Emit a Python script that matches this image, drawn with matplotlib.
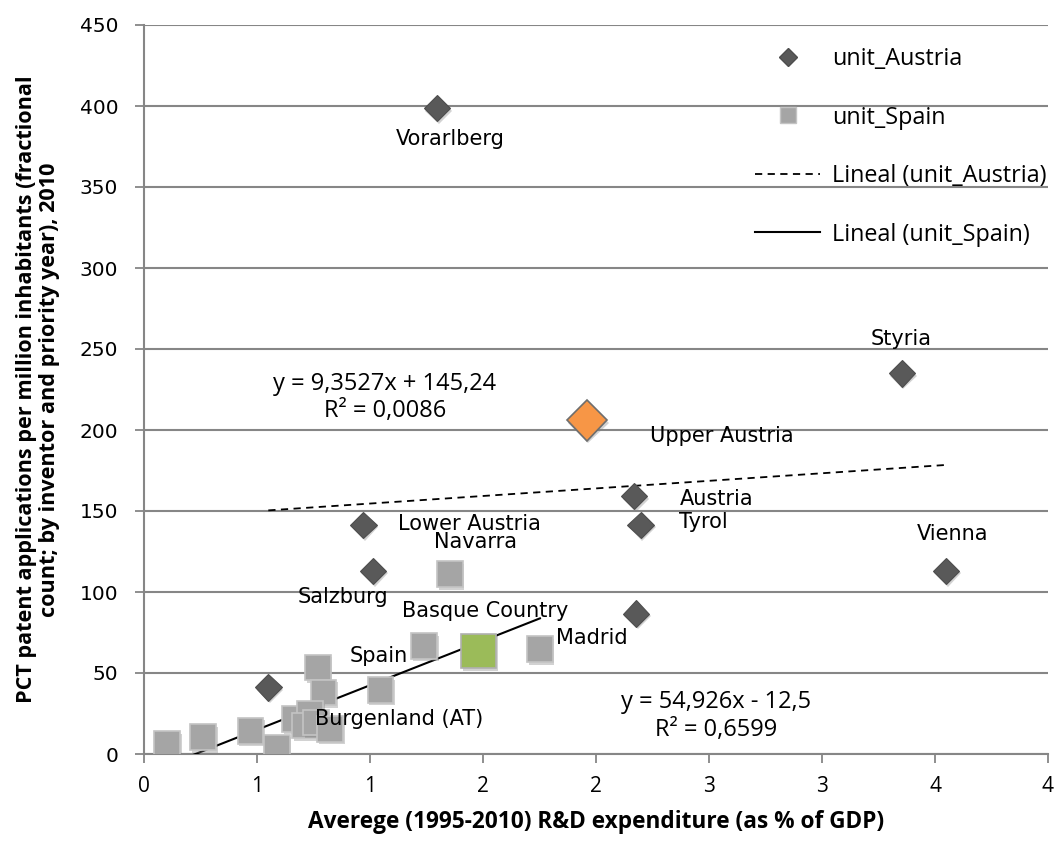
import numpy as np
import matplotlib
matplotlib.use('Agg')
import matplotlib.pyplot as plt
import matplotlib.patheffects as pe

# unit_Austria (diamonds)
at_names = ['Vorarlberg', 'Upper Austria', 'Styria', 'Austria', 'Tyrol', 'Lower Austria',
            'Salzburg', '', 'Vienna', 'Burgenland (AT)']
at_x = [1.296, 1.959, 3.353, 2.169, 2.198, 0.971, 1.013, 2.177, 3.548, 0.550]
at_y = [398.7, 205.9, 234.9, 159.2, 141.4, 141.4, 113.0, 86.7, 113.0, 41.1]

# unit_Spain (squares)
es_names = ['Navarra', 'Basque Country', 'Spain', 'Madrid', '', '', '', '', '', '', '', '', '', '', '', '']
es_x = [1.353, 1.480, 1.240, 1.752, 1.047, 0.769, 0.794, 0.668, 0.735, 0.713, 0.760, 0.823,
        0.103, 0.262, 0.471, 0.587]
es_y = [111.0, 63.5, 66.6, 64.7, 39.5, 53.4, 38.0, 21.6, 24.7, 17.5, 19.5, 15.4,
        6.2, 10.3, 14.4, 4.1]

# trend lines as reported on the chart (slope, intercept)
at_trend = (9.3527, 145.24)
es_trend = (54.926, -12.5)
at_eq = 'y = 9,3527x + 145,24\nR² = 0,0086'
es_eq = 'y = 54,926x - 12,5\nR² = 0,6599'

x_ticks = [0, 0.5, 1, 1.5, 2, 2.5, 3, 3.5, 4]
x_ticklabels = ['0', '1', '1', '2', '2', '3', '3', '4', '4']
y_ticks = [0, 50, 100, 150, 200, 250, 300, 350, 400, 450]

# label offsets in pixels from the point (dx right, dy up)
label_off = {
    'Vorarlberg': (13, -31), 'Upper Austria': (135, -16), 'Styria': (-1, 34),
    'Austria': (82, -3), 'Tyrol': (63, 3), 'Lower Austria': (106, 1),
    'Salzburg': (-30, -26), 'Vienna': (7, 37), 'Burgenland (AT)': (131, -32),
    'Navarra': (26, 32), 'Basque Country': (7, 40), 'Spain': (-45, -10),
    'Madrid': (52, 11),
}

fig = plt.figure(figsize=(10.57, 8.41), dpi=100)
ax = fig.add_axes([144 / 1057, 87 / 841, 904 / 1057, 729 / 841])

grid_c = '#868686'
shadow = [pe.SimplePatchShadow(offset=(1.2, -1.8), shadow_rgbFace='#7f7f7f', alpha=0.35), pe.Normal()]

# trend lines over each series' x range
xa = np.array([min(at_x), max(at_x)])
ax.plot(xa, at_trend[0] * xa + at_trend[1], ls=(0, (4, 3)), color='black', lw=1.3, zorder=3)
xs = np.array([min(es_x), max(es_x)])
ax.plot(xs, es_trend[0] * xs + es_trend[1], ls='-', color='black', lw=1.5, zorder=3)

# squares
for n, x, y in zip(es_names, es_x, es_y):
    if n == 'Basque Country':
        ax.plot(x, y, 's', ms=25, mfc='#9BBB59', mec='#b0b0b0', mew=1.2, zorder=4, path_effects=shadow)
    else:
        ax.plot(x, y, 's', ms=18.5, mfc='#a5a5a5', mec='#c4c4c4', mew=1.2, zorder=4, path_effects=shadow)

# diamonds
for n, x, y in zip(at_names, at_x, at_y):
    if n == 'Upper Austria':
        ax.plot(x, y, 'D', ms=20.5, mfc='#F79646', mec='#6e6e6e', mew=1.2, zorder=5, path_effects=shadow)
    else:
        ax.plot(x, y, 'D', ms=13.5, mfc='#595959', mec='#4d4d4d', mew=0.8, zorder=5, path_effects=shadow)

# legend
h1, = ax.plot([], [], 'D', ms=9.2, mfc='#595959', mec='#4d4d4d', ls='none')
h2, = ax.plot([], [], 's', ms=12, mfc='#a5a5a5', mec='#c4c4c4', ls='none')
h3, = ax.plot([], [], ls=(0, (4, 3)), color='black', lw=1.3)
h4, = ax.plot([], [], ls='-', color='black', lw=1.5)
ax.legend([h1, h2, h3, h4], ['unit_Austria', 'unit_Spain', 'Lineal (unit_Austria)', 'Lineal (unit_Spain)'],
          loc='upper left', bbox_to_anchor=(755 / 1057, 1 - 47 / 841), bbox_transform=fig.transFigure,
          frameon=False, borderpad=0, borderaxespad=0, labelspacing=1.48, handlelength=2.8,
          handletextpad=0.5, prop={'family': 'Open Sans', 'size': 16.8})

# data labels
for n, x, y in list(zip(at_names, at_x, at_y)) + list(zip(es_names, es_x, es_y)):
    if not n:
        continue
    dx, dy = label_off[n]
    ax.annotate(n, (x, y), xytext=(dx * 0.72, dy * 0.72), textcoords='offset points',
                ha='center', va='center', fontsize=15, family='DejaVu Sans', zorder=6)

# trend equations
ax.text(1.065, 220, at_eq, ha='center', va='center', fontsize=17, family='Open Sans', linespacing=1.15)
ax.text(2.53, 23.5, es_eq, ha='center', va='center', fontsize=17, family='Open Sans', linespacing=1.25)

ax.set_xlim(0, 4)
ax.set_ylim(0, 450)
ax.set_xticks(x_ticks)
ax.set_xticklabels(x_ticklabels)
ax.set_yticks(y_ticks)
ax.yaxis.grid(True, color=grid_c, lw=1.5)
ax.set_axisbelow(True)
for s in ['top', 'right']:
    ax.spines[s].set_visible(False)
for s in ['left', 'bottom']:
    ax.spines[s].set_color(grid_c)
    ax.spines[s].set_linewidth(1.5)
ax.tick_params(axis='both', colors=grid_c, length=6.5, width=1.3, labelcolor='black')
ax.tick_params(axis='y', pad=12, labelsize=14.5)
ax.tick_params(axis='x', pad=9, labelsize=15)
for t in ax.get_yticklabels():
    t.set_family('DejaVu Sans')
for t in ax.get_xticklabels():
    t.set_family('Open Sans')

ax.set_xlabel('Averege (1995-2010) R&D expenditure (as % of GDP)', fontsize=16.3,
              fontweight='bold', family='Open Sans', labelpad=10)
ax.set_ylabel('PCT patent applications per million inhabitants (fractional\n'
              'count; by inventor and priority year), 2010', fontsize=15.6,
              fontweight='bold', family='Open Sans', labelpad=14, linespacing=1.15)

fig.savefig('out.png', dpi=100)
